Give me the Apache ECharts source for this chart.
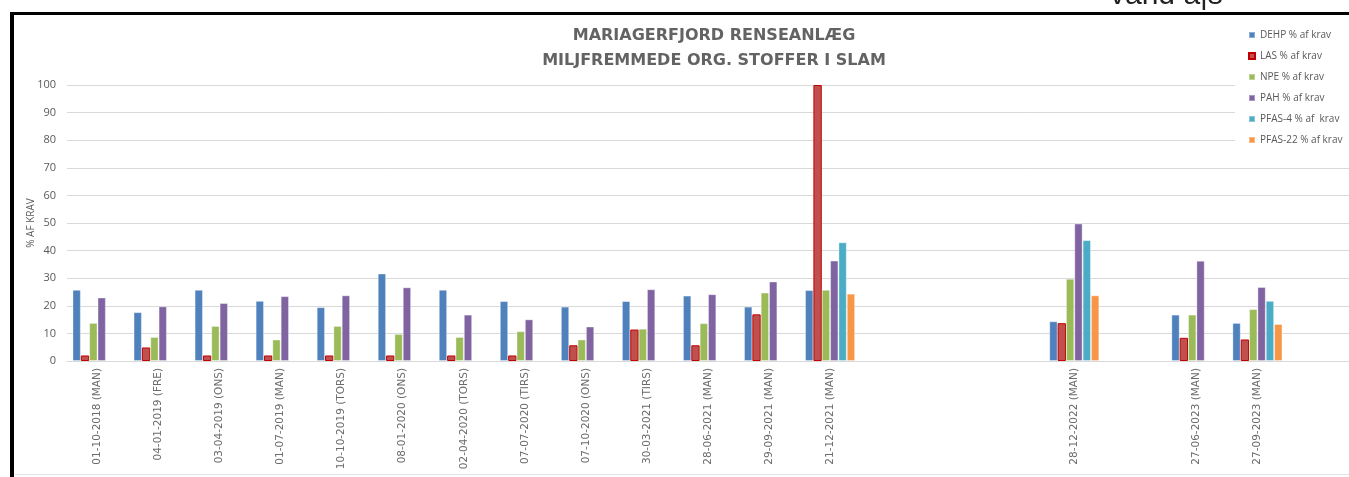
<!DOCTYPE html>
<html>
<head>
<meta charset="utf-8">
<script src="https://cdn.jsdelivr.net/npm/echarts@6/dist/echarts.min.js"></script>
<style>
  html, body { margin: 0; padding: 0; background: #fff; }
  #main { width: 1349px; height: 477px; }
</style>
</head>
<body>
<div id="main"></div>
<script>
"use strict";

// prøvedatoer (tomme kategorier = huller i Excel-arket)
var categories = ['01-10-2018 (MAN)', '04-01-2019 (FRE)', '03-04-2019 (ONS)', '01-07-2019 (MAN)',
    '10-10-2019 (TORS)', '08-01-2020 (ONS)', '02-04-2020 (TORS)', '07-07-2020 (TIRS)',
    '07-10-2020 (ONS)', '30-03-2021 (TIRS)', '28-06-2021 (MAN)', '29-09-2021 (MAN)',
    '21-12-2021 (MAN)', '', '', '', '28-12-2022 (MAN)', '', '27-06-2023 (MAN)', '27-09-2023 (MAN)', ''];

var dehp   = [25.8, 17.7, 25.8, 21.8, 19.5, 31.7, 25.8, 21.7, 19.7, 21.7, 23.7, 19.7, 25.7, null, null, null, 14.4, null, 16.8, 13.8, null];
var las    = [2, 4.9, 2, 2, 2, 2, 2, 2, 5.7, 11.4, 5.7, 16.9, 100, null, null, null, 13.7, null, 8.4, 7.8, null];
var npe    = [13.8, 8.7, 12.7, 7.8, 12.7, 9.8, 8.7, 10.8, 7.8, 11.7, 13.7, 24.8, 25.8, null, null, null, 29.8, null, 16.8, 18.8, null];
var pah    = [23.0, 19.8, 21.0, 23.5, 23.8, 26.7, 16.8, 15.1, 12.5, 26.0, 24.2, 28.8, 36.4, null, null, null, 49.8, null, 36.3, 26.8, null];
var pfas4  = [null, null, null, null, null, null, null, null, null, null, null, null, 43.0, null, null, null, 43.8, null, null, 21.8, null];
var pfas22 = [null, null, null, null, null, null, null, null, null, null, null, null, 24.4, null, null, null, 23.8, null, null, 13.4, null];

var yTicks = [0, 10, 20, 30, 40, 50, 60, 70, 80, 90, 100];

var myChart = echarts.init(document.getElementById('main'));

function bar(name, data, color, border) {
    return {
        name: name,
        type: 'bar',
        data: data,
        barGap: '0%',
        barCategoryGap: '18%',
        itemStyle: {
            color: color,
            borderColor: border || 'rgba(255,255,255,0.35)',
            borderWidth: 1
        }
    };
}

var option = {
    animation: false,
    backgroundColor: '#fff',
    textStyle: { fontFamily: 'Open Sans' },
    title: {
        text: 'MARIAGERFJORD RENSEANLÆG\nMILJFREMMEDE ORG. STOFFER I SLAM',
        left: 714,
        textAlign: 'center',
        top: 23,
        padding: 0,
        textStyle: {
            fontFamily: 'DejaVu Sans',
            fontSize: 16,
            fontWeight: 'bold',
            color: '#636363',
            lineHeight: 25
        }
    },
    legend: {
        orient: 'vertical',
        left: 1235,
        top: 21,
        padding: [8, 20, 8, 13],
        backgroundColor: '#fff',
        itemWidth: 6,
        itemHeight: 6,
        itemGap: 9,
        icon: 'rect',
        textStyle: { fontSize: 10, color: '#595959', lineHeight: 12 },
        data: ['DEHP % af krav', 'LAS % af krav', 'NPE % af krav', 'PAH % af krav', 'PFAS-4 % af  krav', 'PFAS-22 % af krav']
    },
    grid: { left: 67, right: -3, top: 85, bottom: 116 },
    xAxis: {
        type: 'category',
        data: categories,
        axisLine: { lineStyle: { color: '#d9d9d9' } },
        axisTick: { show: false },
        axisLabel: {
            rotate: 90,
            interval: 0,
            margin: 7,
            fontFamily: 'DejaVu Sans',
            fontSize: 10.5,
            color: '#6b6b6b'
        }
    },
    yAxis: {
        type: 'value',
        min: yTicks[0],
        max: yTicks[yTicks.length - 1],
        interval: 10,
        name: '% AF KRAV',
        nameLocation: 'middle',
        nameGap: 31,
        nameMoveOverlap: false,
        nameTextStyle: { fontSize: 10, color: '#595959' },
        axisLabel: { fontSize: 11, color: '#595959', margin: 11 },
        splitLine: { lineStyle: { color: '#d9d9d9' } }
    },
    series: [
        bar('DEHP % af krav', dehp, '#4F81BD'),
        bar('LAS % af krav', las, '#C0504D', '#C00000'),
        bar('NPE % af krav', npe, '#9BBB59'),
        bar('PAH % af krav', pah, '#8064A2'),
        bar('PFAS-4 % af  krav', pfas4, '#4BACC6'),
        bar('PFAS-22 % af krav', pfas22, '#F79646')
    ],
    graphic: [
        { type: 'rect', shape: { x: 10, y: 12, width: 4, height: 470 }, style: { fill: '#000' } },
        { type: 'rect', shape: { x: 10, y: 12, width: 1345, height: 3 }, style: { fill: '#000' } },
        { type: 'rect', shape: { x: 15, y: 474, width: 1340, height: 1 }, style: { fill: '#e3e3e3' } },
        {
            type: 'text', left: 1110, top: -19,
            style: { text: 'vand a|s', fontFamily: 'Liberation Sans', fontSize: 30, fill: '#222' }
        }
    ]
};
myChart.setOption(option);
</script>
</body>
</html>
